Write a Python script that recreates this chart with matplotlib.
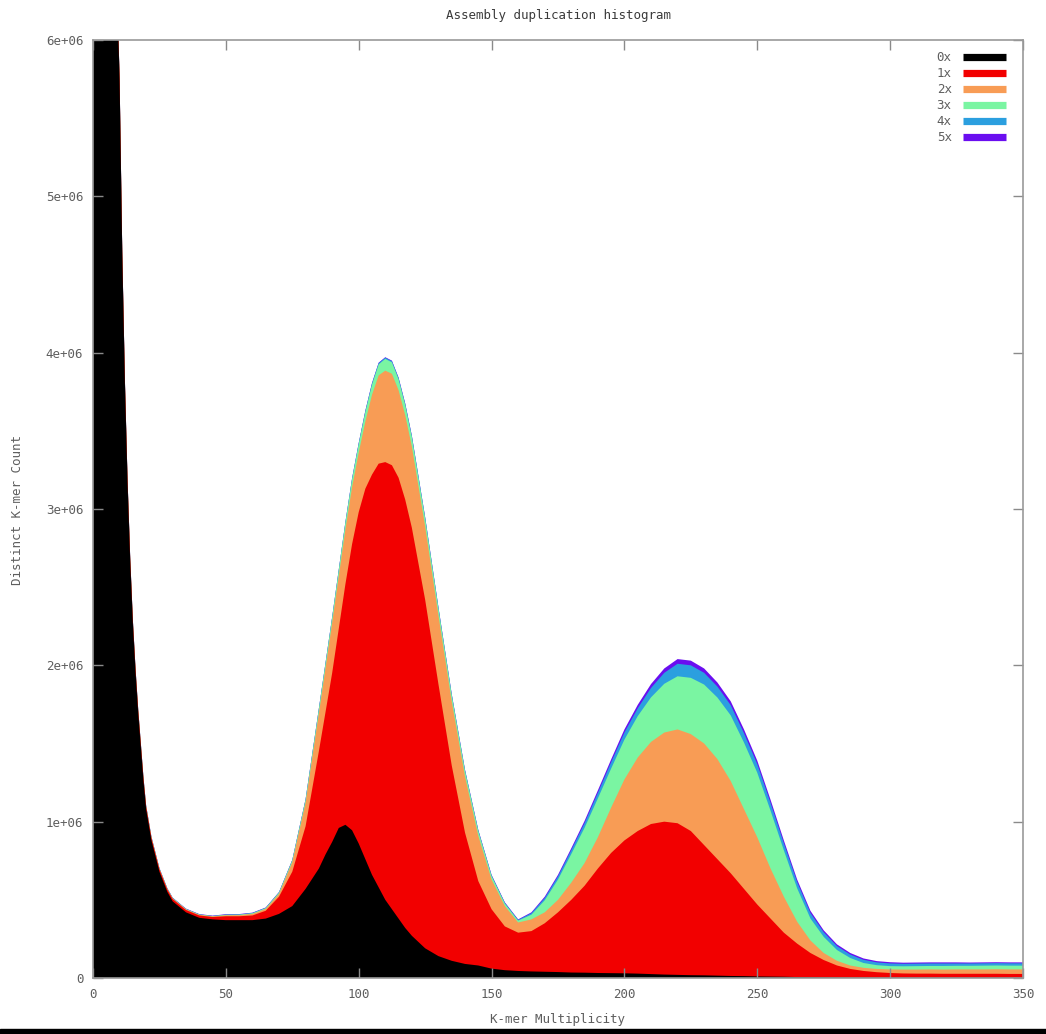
import matplotlib
matplotlib.use("Agg")
import matplotlib.pyplot as plt
import numpy as np
from matplotlib.lines import Line2D
from matplotlib.patches import Rectangle

# k-mer multiplicity sample points (denser over the steep start and the first peak)
mult = (list(range(0, 21)) + [22, 25, 28, 30, 35, 40, 45]
        + list(range(50, 85, 5))
        + [85, 87.5, 90, 92.5, 95, 97.5, 100, 102.5, 105, 107.5, 110, 112.5, 115, 117.5, 120]
        + list(range(125, 351, 5)))

# distinct k-mer counts per assembly copy number, in millions
count_0x = [8.8, 8.5, 8.2, 7.9, 7.6, 7.3, 7.0, 6.8, 6.6, 6.35,
            5.75, 4.64, 3.81, 3.17, 2.67, 2.27, 1.96, 1.70, 1.48, 1.26, 1.08,
            0.88, 0.68, 0.55, 0.49, 0.42, 0.385, 0.375,
            0.37, 0.37, 0.37, 0.38, 0.41, 0.46, 0.57,
            0.70, 0.79, 0.87, 0.96, 0.98, 0.945, 0.86, 0.76, 0.66, 0.58, 0.50, 0.44, 0.38, 0.32, 0.27,
            0.19, 0.14, 0.11, 0.09, 0.08, 0.06, 0.05, 0.045, 0.042, 0.04,
            0.038, 0.035, 0.034, 0.032, 0.031, 0.03, 0.028, 0.025, 0.022, 0.02,
            0.018, 0.017, 0.015, 0.013, 0.012, 0.01, 0.009, 0.008, 0.006, 0.005,
            0.004, 0.003, 0.002, 0.002, 0.002, 0.002, 0.002, 0.002, 0.002, 0.002,
            0.002, 0.002, 0.002, 0.002, 0.002, 0.002]
count_1x = [0.01, 0.01, 0.01, 0.01, 0.01, 0.01, 0.01, 0.01, 0.01, 0.01,
            0.015, 0.015, 0.015, 0.015, 0.015, 0.015, 0.015, 0.015, 0.015, 0.015, 0.015,
            0.015, 0.015, 0.015, 0.015, 0.015, 0.015, 0.015,
            0.025, 0.025, 0.03, 0.05, 0.11, 0.22, 0.40,
            0.75, 0.91, 1.08, 1.275, 1.54, 1.83, 2.12, 2.37, 2.56, 2.71, 2.80, 2.84, 2.82, 2.74, 2.61,
            2.23, 1.74, 1.25, 0.84, 0.54, 0.38, 0.28, 0.245, 0.258, 0.31,
            0.382, 0.465, 0.556, 0.668, 0.769, 0.85, 0.912, 0.96, 0.978, 0.97,
            0.922, 0.833, 0.745, 0.657, 0.558, 0.46, 0.371, 0.282, 0.214, 0.155,
            0.111, 0.077, 0.056, 0.043, 0.035, 0.03, 0.027, 0.026, 0.026, 0.025,
            0.025, 0.025, 0.025, 0.025, 0.024, 0.024]
count_2x = [0.003, 0.003, 0.003, 0.003, 0.003, 0.003, 0.003, 0.003, 0.003, 0.003,
            0.004, 0.004, 0.004, 0.004, 0.004, 0.004, 0.004, 0.004, 0.004, 0.004, 0.004,
            0.004, 0.004, 0.004, 0.004, 0.004, 0.004, 0.004,
            0.006, 0.007, 0.01, 0.012, 0.018, 0.06, 0.15,
            0.24, 0.28, 0.32, 0.335, 0.35, 0.365, 0.38, 0.43, 0.51, 0.565, 0.585, 0.585, 0.56, 0.54, 0.52,
            0.47, 0.44, 0.41, 0.36, 0.29, 0.19, 0.13, 0.065, 0.075, 0.07,
            0.08, 0.11, 0.145, 0.20, 0.29, 0.39, 0.47, 0.525, 0.57, 0.60,
            0.62, 0.65, 0.64, 0.59, 0.51, 0.43, 0.32, 0.23, 0.14, 0.08,
            0.045, 0.03, 0.022, 0.02, 0.021, 0.023, 0.025, 0.026, 0.027, 0.027,
            0.028, 0.028, 0.028, 0.029, 0.029, 0.029]
count_3x = [0.002, 0.002, 0.002, 0.002, 0.002, 0.002, 0.002, 0.002, 0.002, 0.002,
            0.002, 0.002, 0.002, 0.002, 0.002, 0.002, 0.002, 0.002, 0.002, 0.002, 0.002,
            0.002, 0.002, 0.002, 0.002, 0.002, 0.002, 0.002,
            0.003, 0.003, 0.004, 0.005, 0.008, 0.012, 0.02,
            0.03, 0.032, 0.035, 0.04, 0.045, 0.05, 0.055, 0.06, 0.065, 0.07, 0.075, 0.073, 0.07, 0.065, 0.06,
            0.05, 0.045, 0.04, 0.035, 0.03, 0.022, 0.016, 0.012, 0.03, 0.077,
            0.13, 0.183, 0.226, 0.249, 0.25, 0.255, 0.265, 0.285, 0.312, 0.34,
            0.36, 0.377, 0.394, 0.42, 0.426, 0.413, 0.37, 0.297, 0.214, 0.141,
            0.103, 0.069, 0.048, 0.031, 0.024, 0.021, 0.021, 0.022, 0.022, 0.023,
            0.023, 0.023, 0.024, 0.024, 0.024, 0.024]
count_4x = [0.001, 0.001, 0.001, 0.001, 0.001, 0.001, 0.001, 0.001, 0.001, 0.001,
            0.001, 0.001, 0.001, 0.001, 0.001, 0.001, 0.001, 0.001, 0.001, 0.001, 0.001,
            0.001, 0.001, 0.001, 0.001, 0.001, 0.001, 0.001,
            0.002, 0.002, 0.002, 0.002, 0.002, 0.002, 0.002,
            0.002, 0.002, 0.002, 0.002, 0.002, 0.004, 0.005, 0.007, 0.008, 0.008, 0.008, 0.008, 0.008, 0.008, 0.007,
            0.006, 0.005, 0.005, 0.005, 0.005, 0.005, 0.005, 0.005, 0.01, 0.015,
            0.02, 0.025, 0.03, 0.035, 0.04, 0.045, 0.05, 0.06, 0.07, 0.08,
            0.08, 0.075, 0.07, 0.065, 0.06, 0.055, 0.05, 0.045, 0.04, 0.035,
            0.03, 0.025, 0.022, 0.02, 0.018, 0.017, 0.016, 0.016, 0.016, 0.016,
            0.015, 0.015, 0.015, 0.015, 0.015, 0.015]
count_5x = [0.002, 0.002, 0.002, 0.002, 0.002, 0.002, 0.002, 0.002, 0.002, 0.002,
            0.002, 0.002, 0.002, 0.002, 0.002, 0.002, 0.002, 0.002, 0.002, 0.002, 0.002,
            0.002, 0.002, 0.002, 0.002, 0.002, 0.002, 0.002,
            0.002, 0.002, 0.002, 0.002, 0.002, 0.002, 0.002,
            0.002, 0.002, 0.002, 0.002, 0.002, 0.003, 0.003, 0.003, 0.003, 0.003, 0.003, 0.003, 0.003, 0.003, 0.003,
            0.003, 0.003, 0.003, 0.003, 0.003, 0.003, 0.003, 0.003, 0.005, 0.008,
            0.01, 0.012, 0.014, 0.016, 0.018, 0.02, 0.022, 0.025, 0.028, 0.03,
            0.03, 0.028, 0.026, 0.025, 0.024, 0.022, 0.02, 0.018, 0.016, 0.014,
            0.012, 0.011, 0.01, 0.009, 0.008, 0.008, 0.007, 0.007, 0.007, 0.007,
            0.007, 0.006, 0.006, 0.006, 0.006, 0.006]

labels = ["0x", "1x", "2x", "3x", "4x", "5x"]
colors = ["#000000", "#f20000", "#f89c55", "#7af5a2", "#2b9fdf", "#6a0ef0"]
y_ticks = [0, 1e6, 2e6, 3e6, 4e6, 5e6, 6e6]
y_tick_labels = ["0", "1e+06", "2e+06", "3e+06", "4e+06", "5e+06", "6e+06"]
x_ticks = [0, 50, 100, 150, 200, 250, 300, 350]

FONT = "DejaVu Sans Mono"
TXT = "#5e5e5e"

series = [count_0x, count_1x, count_2x, count_3x, count_4x, count_5x]
for s in series:
    assert len(s) == len(mult), (len(s), len(mult))
# stacked tops; fill each from zero, highest first, so no seams between layers
tops = np.cumsum(np.array(series) * 1e6, axis=0)

fig = plt.figure(figsize=(10.46, 10.34), dpi=100)
ax = fig.add_axes([93 / 1046, 56 / 1034, 930 / 1046, 938 / 1034])
for k in reversed(range(len(series))):
    ax.fill_between(mult, 0, tops[k], color=colors[k], linewidth=0)

ax.set_xlim(0, 350)
ax.set_ylim(0, 6e6)
ax.set_xticks(x_ticks)
ax.set_xticklabels([str(t) for t in x_ticks])
ax.set_yticks(y_ticks)
ax.set_yticklabels(y_tick_labels)
ax.tick_params(direction="in", top=True, right=True, length=7, width=1,
               color="#8a8a8a", labelcolor=TXT, labelsize=9, pad=7)
for lab in ax.get_xticklabels() + ax.get_yticklabels():
    lab.set_family(FONT)
for sp in ax.spines.values():
    sp.set_color("#9a9a9a")
    sp.set_linewidth(1.2)

handles = [Line2D([], [], color=c, lw=5.2, solid_capstyle="butt") for c in colors]
leg = ax.legend(handles, labels, loc="upper right", bbox_to_anchor=(1 - 17 / 930, 1 - 11 / 938),
                frameon=False, markerfirst=False, handlelength=3.45, handletextpad=0.9,
                labelspacing=0.24, borderpad=0, borderaxespad=0,
                prop={"family": FONT, "size": 9})
for t in leg.get_texts():
    t.set_color(TXT)

fig.text(558 / 1046, 1 - 15 / 1034, "Assembly duplication histogram", ha="center", va="center",
         family=FONT, fontsize=9, color="#3a3a3a")
fig.text(18 / 1046, 1 - 510 / 1034, "Distinct K-mer Count", rotation=90, ha="center", va="center",
         family=FONT, fontsize=9, color=TXT)
fig.text(558 / 1046, 1 - 1020 / 1034, "K-mer Multiplicity", ha="center", va="center",
         family=FONT, fontsize=9, color=TXT)

# dark strip along the bottom edge of the original screenshot
fig.add_artist(Rectangle((0, 0), 1, 5 / 1034, transform=fig.transFigure, color="black"))

fig.savefig("out.png", dpi=100)
